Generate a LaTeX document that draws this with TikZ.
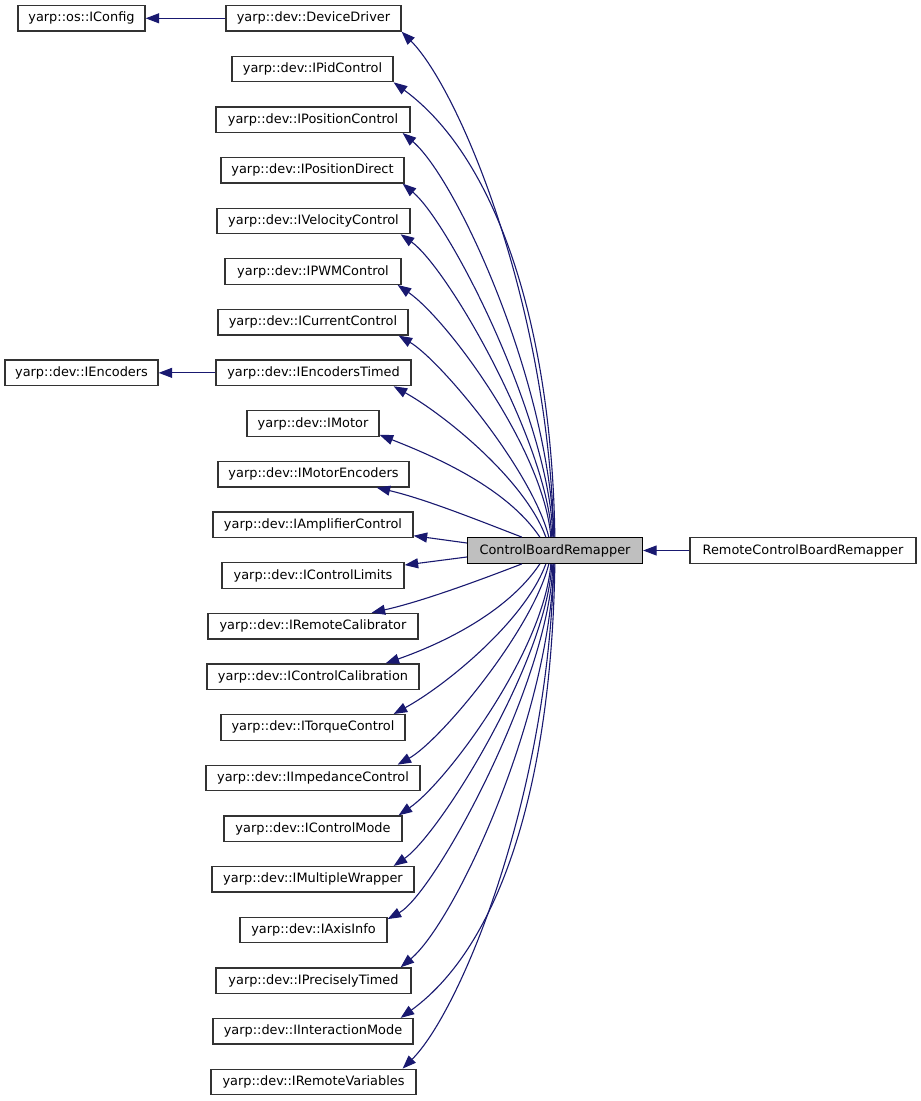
\documentclass[tikz,border=0pt]{standalone}
\usepackage{fontspec}
\newfontfamily\dejavu{DejaVu Sans}
\usetikzlibrary{arrows.meta,calc}
\definecolor{navyb}{HTML}{191970}
\definecolor{boxgray}{HTML}{333333}
\definecolor{hlfill}{HTML}{BFBFBF}
\tikzset{
  box/.style={draw=boxgray, line width=1.3pt, fill=white, minimum height=25.5pt,
    inner sep=0pt, anchor=center, font=\dejavu\fontsize{12.9}{15}\selectfont},
  hlbox/.style={box, fill=hlfill, draw=black},
  edge/.style={draw=navyb, line width=1.1pt, -{Triangle[length=13.5pt,width=10pt]}},
}
\begin{document}
\begin{tikzpicture}[x=1pt,y=-1pt]
\useasboundingbox[fill=white] (0,0) rectangle (921,1101);
% nodes
\node[box, minimum width=127pt] (iconfig) at (81.5,18.3) {yarp::os::IConfig};
\node[box, minimum width=175pt] (dd) at (313.5,18.3) {yarp::dev::DeviceDriver};
\node[box, minimum width=161pt] (ipid) at (312.5,68.95) {yarp::dev::IPidControl};
\node[box, minimum width=194pt] (iposc) at (313,119.6) {yarp::dev::IPositionControl};
\node[box, minimum width=183pt] (iposd) at (312.5,170.25) {yarp::dev::IPositionDirect};
\node[box, minimum width=193pt] (ivel) at (313.5,220.9) {yarp::dev::IVelocityControl};
\node[box, minimum width=176pt] (ipwm) at (313,271.55) {yarp::dev::IPWMControl};
\node[box, minimum width=190pt] (icur) at (313,322.2) {yarp::dev::ICurrentControl};
\node[box, minimum width=153pt] (ienc) at (81.5,372.85) {yarp::dev::IEncoders};
\node[box, minimum width=195pt] (ienct) at (313.5,372.85) {yarp::dev::IEncodersTimed};
\node[box, minimum width=132pt] (imotor) at (313,423.5) {yarp::dev::IMotor};
\node[box, minimum width=191pt] (imenc) at (313.5,474.15) {yarp::dev::IMotorEncoders};
\node[box, minimum width=200pt] (iamp) at (313,524.8) {yarp::dev::IAmplifierControl};
\node[box, minimum width=182pt] (icl) at (313,575.45) {yarp::dev::IControlLimits};
\node[box, minimum width=210pt] (irc) at (313,626.1) {yarp::dev::IRemoteCalibrator};
\node[box, minimum width=212pt] (icc) at (313,676.75) {yarp::dev::IControlCalibration};
\node[box, minimum width=184pt] (itq) at (313,727.4) {yarp::dev::ITorqueControl};
\node[box, minimum width=214pt] (iimp) at (313,778.05) {yarp::dev::IImpedanceControl};
\node[box, minimum width=178pt] (icm) at (313,828.7) {yarp::dev::IControlMode};
\node[box, minimum width=202pt] (imw) at (313,879.35) {yarp::dev::IMultipleWrapper};
\node[box, minimum width=147pt] (iax) at (313.5,930) {yarp::dev::IAxisInfo};
\node[box, minimum width=195pt] (ipt) at (313.5,980.65) {yarp::dev::IPreciselyTimed};
\node[box, minimum width=200pt] (iim) at (313,1031.3) {yarp::dev::IInteractionMode};
\node[box, minimum width=205pt] (irv) at (313.5,1081.95) {yarp::dev::IRemoteVariables};
\node[hlbox, minimum width=175pt] (cbr) at (555,550.5) {ControlBoardRemapper};
\node[box, minimum width=226pt] (rcbr) at (803,550.5) {RemoteControlBoardRemapper};
% straight edges
\draw[edge] (dd.west) -- (iconfig.east);
\draw[edge] (ienct.west) -- (ienc.east);
\draw[edge] (rcbr.west) -- (cbr.east);
% upper fan
\draw[edge] ([xshift=87pt]cbr.north west) .. controls (548,300) and (458,88) .. (dd.south east);
\draw[edge] ([xshift=88pt]cbr.north west) .. controls (552,330) and (498,159) .. (ipid.south east);
\draw[edge] ([xshift=87pt]cbr.north west) .. controls (549,380) and (456,178) .. ([xshift=-8pt]iposc.south east);
\draw[edge] ([xshift=86pt]cbr.north west) .. controls (550,420) and (450,223) .. ([xshift=-2pt]iposd.south east);
\draw[edge] ([xshift=85pt]cbr.north west) .. controls (547,440) and (447,267) .. ([xshift=-10pt]ivel.south east);
\draw[edge] ([xshift=84pt]cbr.north west) .. controls (544,450) and (447,319) .. ([xshift=-4pt]ipwm.south east);
\draw[edge] ([xshift=82pt]cbr.north west) .. controls (532,470) and (440,360) .. ([xshift=-10pt]icur.south east);
\draw[edge] ([xshift=79pt]cbr.north west) .. controls (525,480) and (445,415) .. ([xshift=-18pt]ienct.south east);
\draw[edge] ([xshift=73pt]cbr.north west) .. controls (507,488) and (436,457) .. ([yshift=2pt]imotor.south east);
\draw[edge] ([xshift=55pt]cbr.north west) .. controls (475,519) and (425,499) .. ([xshift=-33pt]imenc.south east);
\draw[edge] ([yshift=7.5pt]cbr.west) -- ([yshift=2.5pt]iamp.south east);
\draw[edge] ([yshift=-6.5pt]cbr.west) -- ([yshift=-3pt]icl.north east);
% lower fan
\draw[edge] ([xshift=55pt]cbr.south west) .. controls (475,582) and (420,602) .. ([xshift=-47pt]irc.north east);
\draw[edge] ([xshift=73pt]cbr.south west) .. controls (507,613) and (441,644) .. ([xshift=-34pt]icc.north east);
\draw[edge] ([xshift=79pt]cbr.south west) .. controls (525,621) and (445,686) .. ([xshift=-12pt]itq.north east);
\draw[edge] ([xshift=82pt]cbr.south west) .. controls (532,631) and (440,741) .. ([xshift=-23pt]iimp.north east);
\draw[edge] ([xshift=84pt]cbr.south west) .. controls (544,651) and (447,782) .. ([xshift=-4pt]icm.north east);
\draw[edge] ([xshift=85pt]cbr.south west) .. controls (547,661) and (440,834) .. ([xshift=-21pt]imw.north east);
\draw[edge] ([xshift=86pt]cbr.south west) .. controls (550,681) and (435,893) .. ([yshift=-2.5pt]iax.north east);
\draw[edge] ([xshift=87pt]cbr.south west) .. controls (549,721) and (454,923) .. ([xshift=-11pt]ipt.north east);
\draw[edge] ([xshift=88pt]cbr.south west) .. controls (552,771) and (505,942) .. ([xshift=-13pt]iim.north east);
\draw[edge] ([xshift=87pt]cbr.south west) .. controls (548,801) and (459,1013) .. ([xshift=-14pt]irv.north east);
\end{tikzpicture}
\end{document}
